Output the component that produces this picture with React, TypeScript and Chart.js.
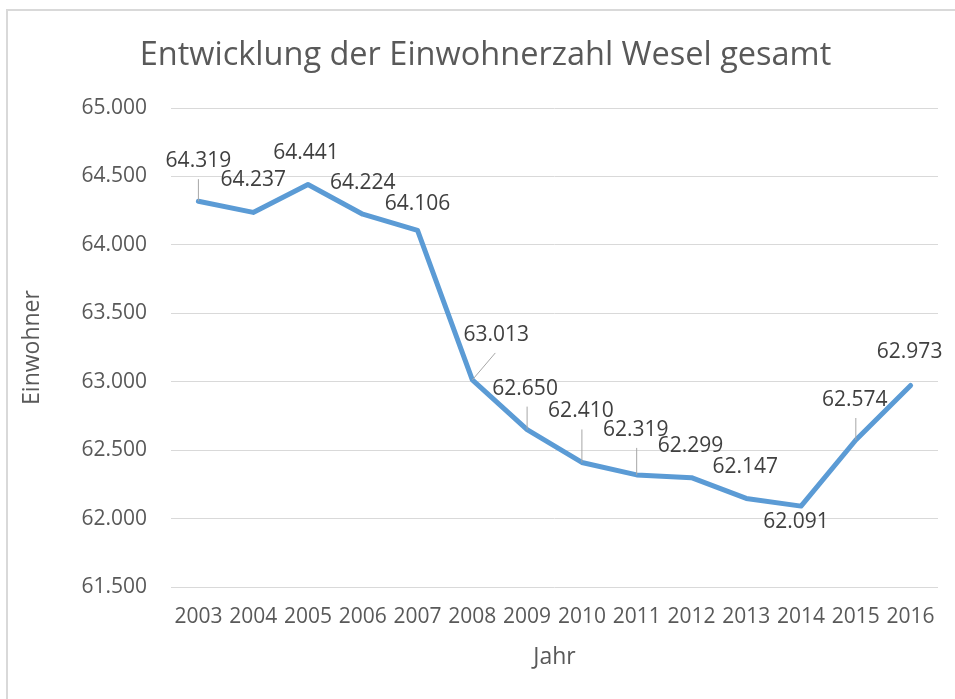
import React, { useEffect, useRef } from 'react';
import { Chart, registerables } from 'chart.js';

Chart.register(...registerables);

const chartTitle = 'Entwicklung der Einwohnerzahl Wesel gesamt';
const years = ['2003', '2004', '2005', '2006', '2007', '2008', '2009', '2010', '2011', '2012', '2013', '2014', '2015', '2016'];
const population = [64319, 64237, 64441, 64224, 64106, 63013, 62650, 62410, 62319, 62299, 62147, 62091, 62574, 62973];
const yMin = 61500;
const yMax = 65000;
const yStep = 500;

// label placement (dx, dy in px relative to point, leader line flag)
const labelOffsets: [number, number, boolean][] = [
  [0, -40, true],
  [0, -32, false],
  [-2, -31, false],
  [0, -31, false],
  [0, -26, false],
  [24, -45, true],
  [-2, -41, true],
  [-1, -51, true],
  [-1, -45, true],
  [-1, -32, false],
  [-1, -31, false],
  [-5, 16, false],
  [-1, -40, true],
  [-1, -33, false],
];

const FONT = '"Open Sans", "DejaVu Sans", sans-serif';

function fmt(v: number): string {
  return String(Math.round(v)).replace(/\B(?=(\d{3})+(?!\d))/g, '.');
}

const titlePlugin = {
  id: 'customTitle',
  afterDraw(chart: any) {
    const ctx = chart.ctx;
    ctx.save();
    ctx.font = '32.5px ' + FONT;
    ctx.fillStyle = '#595959';
    ctx.textAlign = 'center';
    ctx.textBaseline = 'alphabetic';
    ctx.fillText(chartTitle, 485.5, 65);
    ctx.restore();
  },
};

const dataLabels = {
  id: 'dataLabels',
  afterDatasetsDraw(chart: any) {
    const ctx = chart.ctx;
    const meta = chart.getDatasetMeta(0);
    ctx.save();
    meta.data.forEach((pt: any, i: number) => {
      const [dx, dy, leader] = labelOffsets[i];
      const lx = pt.x + dx;
      const ly = pt.y + dy;
      if (leader) {
        ctx.strokeStyle = '#a6a6a6';
        ctx.lineWidth = 1;
        ctx.beginPath();
        const sx = Math.abs(dx) > 10 ? lx - 1 : pt.x;
        ctx.moveTo(sx, ly + 18);
        ctx.lineTo(pt.x, pt.y);
        ctx.stroke();
      }
      ctx.font = '21px ' + FONT;
      ctx.fillStyle = '#404040';
      ctx.textAlign = 'center';
      ctx.textBaseline = 'middle';
      ctx.fillText(fmt(population[i]), lx, ly);
    });
    ctx.restore();
  },
};

export default function App() {
  const ref = useRef<HTMLCanvasElement | null>(null);

  useEffect(() => {
    if (!ref.current) return;
    const chart = new Chart(ref.current, {
      type: 'line',
      data: {
        labels: years,
        datasets: [
          {
            label: 'Einwohner',
            data: population,
            borderColor: '#5b9bd5',
            backgroundColor: '#5b9bd5',
            borderWidth: 5,
            pointRadius: 0,
            pointHoverRadius: 0,
            tension: 0,
            borderJoinStyle: 'round',
            borderCapStyle: 'round',
          },
        ],
      },
      options: {
        animation: false,
        responsive: false,
        devicePixelRatio: 1,
        layout: { padding: { left: 0, right: 17, top: 108, bottom: 0 } },
        plugins: {
          legend: { display: false },
          tooltip: { enabled: false },
          title: { display: false },
        },
        scales: {
          x: {
            type: 'category',
            offset: true,
            grid: { display: false, drawTicks: false },
            border: { display: false },
            ticks: {
              color: '#595959',
              font: { family: FONT, size: 21 },
              padding: 17,
              maxRotation: 0,
              autoSkip: false,
            },
            title: {
              display: true,
              text: 'Jahr',
              color: '#595959',
              font: { family: FONT, size: 23 },
              padding: { top: 0, bottom: 28 },
            },
            afterFit: (scale: any) => {
              scale.height = 112;
            },
          },
          y: {
            min: yMin,
            max: yMax,
            grid: { color: '#d9d9d9', lineWidth: 1, drawTicks: false },
            border: { display: false },
            ticks: {
              stepSize: yStep,
              color: '#595959',
              font: { family: FONT, size: 21 },
              padding: 24,
              callback: (v: any) => fmt(Number(v)),
            },
            title: {
              display: true,
              text: 'Einwohner',
              color: '#595959',
              font: { family: FONT, size: 23 },
              padding: { top: 19, bottom: 0 },
            },
            afterFit: (scale: any) => {
              scale.width = 171;
            },
          },
        },
      },
      plugins: [dataLabels, titlePlugin],
    } as any);
    return () => chart.destroy();
  }, []);

  return (
    <div style={{ position: 'fixed', left: 0, top: 0, width: 955, height: 699, background: '#fff' }}>
      <div
        style={{
          position: 'absolute',
          left: 6,
          top: 9,
          right: 0,
          bottom: 0,
          borderLeft: '2px solid #d9d9d9',
          borderTop: '2px solid #d9d9d9',
        }}
      />
      <canvas ref={ref} width={955} height={699} style={{ position: 'absolute', left: 0, top: 0, width: 955, height: 699 }} />
    </div>
  );
}
